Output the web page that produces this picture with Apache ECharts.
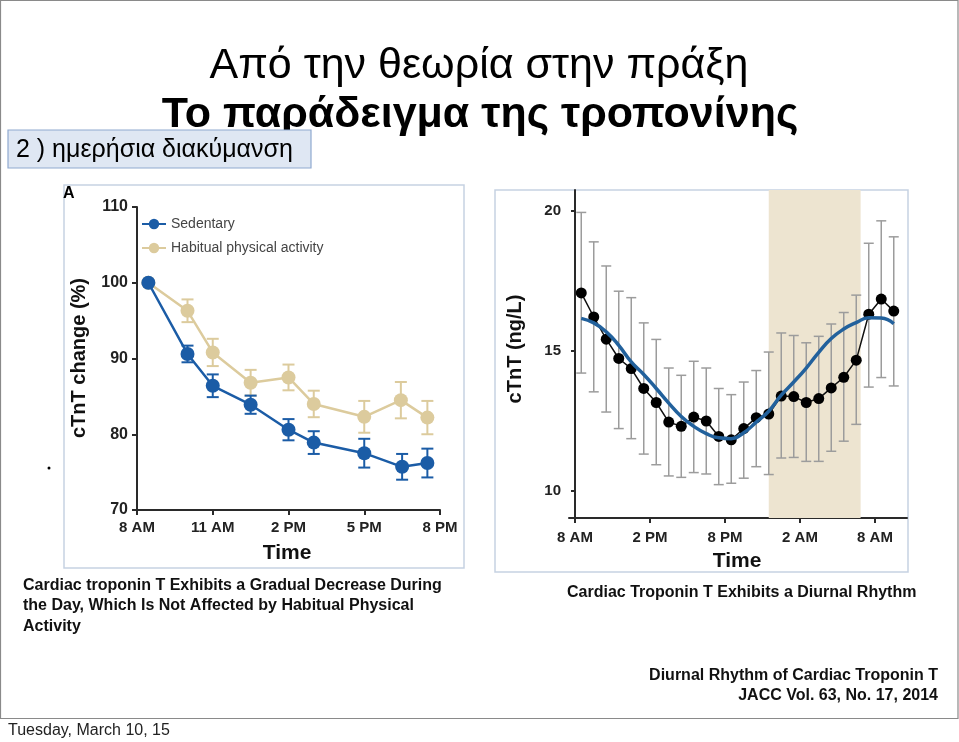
<!DOCTYPE html>
<html>
<head>
<meta charset="utf-8">
<script src="https://cdn.jsdelivr.net/npm/echarts@6/dist/echarts.min.js"></script>
<style>
html,body{margin:0;padding:0;background:#fff;}
#main{width:959px;height:742px;}
</style>
</head>
<body>
<div id="main"></div>
<script>
// ---------- Left chart data (hours after 8 AM) ----------
const leftTickLabels = ['8 AM', '11 AM', '2 PM', '5 PM', '8 PM'];
const sedTime = [0.45, 2, 3, 4.5, 6, 7, 9, 10.5, 11.5];
const sedVal  = [100, 90.6, 86.4, 83.9, 80.6, 78.9, 77.5, 75.7, 76.2];
const sedErr  = [0, 1.1, 1.5, 1.2, 1.4, 1.5, 1.9, 1.7, 1.9];
const habTime = [0.45, 2, 3, 4.5, 6, 7, 9, 10.45, 11.5];
const habVal  = [100, 96.3, 90.8, 86.8, 87.5, 84.0, 82.3, 84.5, 82.2];
const habErr  = [0, 1.5, 1.8, 1.7, 1.7, 1.75, 2.1, 2.4, 2.2];

// ---------- Right chart data (hours after 8 AM) ----------
const rightTickLabels = ['8 AM', '2 PM', '8 PM', '2 AM', '8 AM'];
const rTime = [0.5, 1.5, 2.5, 3.5, 4.5, 5.5, 6.5, 7.5, 8.5, 9.5, 10.5, 11.5, 12.5,
               13.5, 14.5, 15.5, 16.5, 17.5, 18.5, 19.5, 20.5, 21.5, 22.5, 23.5, 24.5, 25.5];
const rVal  = [17.07, 16.21, 15.42, 14.73, 14.37, 13.66, 13.16, 12.46, 12.31, 12.64, 12.50, 11.95, 11.83,
               12.23, 12.62, 12.75, 13.39, 13.37, 13.16, 13.30, 13.68, 14.06, 14.67, 16.31, 16.85, 16.42];
const rLow  = [14.21, 13.54, 12.82, 12.23, 11.87, 11.32, 10.94, 10.54, 10.49, 10.66, 10.61, 10.23, 10.28,
               10.46, 10.87, 10.59, 11.18, 11.20, 11.06, 11.06, 11.42, 11.78, 12.38, 13.71, 14.05, 13.75];
const rHigh = [19.94, 18.89, 18.03, 17.13, 16.90, 16.00, 15.41, 14.39, 14.13, 14.63, 14.39, 13.66, 13.44,
               13.89, 14.30, 14.96, 15.64, 15.55, 15.29, 15.52, 15.96, 16.37, 16.99, 18.84, 19.64, 19.07];
const fitTime = rTime;
const fitVal = [16.16, 16.00, 15.68, 15.20, 14.61, 14.16, 13.66, 13.14, 12.66, 12.31, 12.05, 11.90, 11.87,
                12.08, 12.46, 12.85, 13.42, 13.89, 14.39, 14.95, 15.44, 15.78, 16.01, 16.18, 16.17, 15.97];
const nightStart = 15.5, nightEnd = 22.85;

// ---------- colors ----------
const SED = '#1b5ca6', HAB = '#dccb9d', ERRG = '#9c9c9c', FIT = '#22619c', BAND = '#ede4d0';
const FONT = "'Liberation Sans', Arial, sans-serif";

function errBar(color, lw, hw) {
  return function (params, api) {
    const x = api.value(0), lo = api.value(1), hi = api.value(2);
    if (hi === lo) return null;
    const a = api.coord([x, hi]), b = api.coord([x, lo]);
    const st = { stroke: color, lineWidth: lw };
    return { type: 'group', children: [
      { type: 'line', shape: { x1: a[0], y1: a[1], x2: b[0], y2: b[1] }, style: st },
      { type: 'line', shape: { x1: a[0] - hw, y1: a[1], x2: a[0] + hw, y2: a[1] }, style: st },
      { type: 'line', shape: { x1: b[0] - hw, y1: b[1], x2: b[0] + hw, y2: b[1] }, style: st }
    ]};
  };
}

const sedPts = sedTime.map((t, i) => [t, sedVal[i]]);
const habPts = habTime.map((t, i) => [t, habVal[i]]);
const sedErrData = sedTime.map((t, i) => [t, sedVal[i] - sedErr[i], sedVal[i] + sedErr[i]]);
const habErrData = habTime.map((t, i) => [t, habVal[i] - habErr[i], habVal[i] + habErr[i]]);
const rPts = rTime.map((t, i) => [t, rVal[i]]);
const rErrData = rTime.map((t, i) => [t, rLow[i], rHigh[i]]);
const fitPts = fitTime.map((t, i) => [t, fitVal[i]]);

const axisLineStyle = { color: '#2a2a2a', width: 2 };
const tickLabel = { color: '#222', fontWeight: 'bold', fontFamily: FONT };

const chart = echarts.init(document.getElementById('main'), null, { renderer: 'canvas' });
chart.setOption({
  animation: false,
  backgroundColor: '#fff',
  grid: [
    { left: 137, top: 207, width: 303, height: 303, containLabel: false },
    { left: 569, top: 190, width: 338, height: 328, containLabel: false }
  ],
  xAxis: [
    { type: 'value', gridIndex: 0, min: 0, max: 12, interval: 3,
      axisLine: { lineStyle: axisLineStyle }, axisTick: { length: 5, lineStyle: axisLineStyle },
      splitLine: { show: false },
      axisLabel: Object.assign({ fontSize: 15, margin: 10,
        formatter: v => leftTickLabels[Math.round(v / 3)] }, tickLabel) },
    { type: 'value', gridIndex: 1, min: -0.48, max: 26.56,
      axisLine: { lineStyle: axisLineStyle },
      axisTick: { length: 5, lineStyle: axisLineStyle, customValues: [0, 6, 12, 18, 24] },
      splitLine: { show: false },
      axisLabel: Object.assign({ fontSize: 15, margin: 12, customValues: [0, 6, 12, 18, 24],
        formatter: v => rightTickLabels[Math.round(v / 6)] }, tickLabel) }
  ],
  yAxis: [
    { type: 'value', gridIndex: 0, min: 70, max: 110, interval: 10,
      axisLine: { show: true, lineStyle: axisLineStyle }, axisTick: { show: true, length: 5, lineStyle: axisLineStyle },
      splitLine: { show: false },
      axisLabel: Object.assign({ fontSize: 16, margin: 9 }, tickLabel) },
    { type: 'value', gridIndex: 1, min: 9.04, max: 20.74,
      axisLine: { show: true, lineStyle: axisLineStyle },
      axisTick: { show: true, length: 4, lineStyle: axisLineStyle, customValues: [10, 15, 20] },
      splitLine: { show: false },
      axisLabel: Object.assign({ fontSize: 15, margin: 8, customValues: [10, 15, 20] }, tickLabel) }
  ],
  legend: {
    left: 136, top: 212, orient: 'vertical', itemWidth: 24, itemHeight: 13, itemGap: 10,
    textStyle: { fontSize: 14, color: '#444', fontFamily: FONT },
    data: ['Sedentary', 'Habitual physical activity']
  },
  series: [
    { type: 'custom', name: 'hab-err', xAxisIndex: 0, yAxisIndex: 0, renderItem: errBar(HAB, 2, 6),
      data: habErrData, z: 2, silent: true },
    { type: 'line', name: 'Habitual physical activity', xAxisIndex: 0, yAxisIndex: 0, data: habPts,
      symbol: 'circle', symbolSize: 14, color: HAB, lineStyle: { width: 2.5, color: HAB }, z: 3 },
    { type: 'custom', name: 'sed-err', xAxisIndex: 0, yAxisIndex: 0, renderItem: errBar(SED, 2, 6),
      data: sedErrData, z: 4, silent: true },
    { type: 'line', name: 'Sedentary', xAxisIndex: 0, yAxisIndex: 0, data: sedPts,
      symbol: 'circle', symbolSize: 14, color: SED, lineStyle: { width: 2.5, color: SED }, z: 5 },
    // right chart
    { type: 'line', name: 'night', xAxisIndex: 1, yAxisIndex: 1, data: [], z: 1,
      markArea: { silent: true, itemStyle: { color: BAND }, data: [[{ xAxis: nightStart }, { xAxis: nightEnd }]] } },
    { type: 'custom', name: 'r-err', xAxisIndex: 1, yAxisIndex: 1, renderItem: errBar(ERRG, 1.5, 5),
      data: rErrData, z: 2, silent: true },
    { type: 'line', name: 'cTnT', xAxisIndex: 1, yAxisIndex: 1, data: rPts,
      symbol: 'circle', symbolSize: 11, color: '#000', lineStyle: { width: 1.5, color: '#111' }, z: 3 },
    { type: 'line', name: 'fit', xAxisIndex: 1, yAxisIndex: 1, data: fitPts, smooth: true,
      showSymbol: false, symbol: 'none', lineStyle: { width: 3.5, color: FIT }, z: 4 }
  ],
  graphic: [
    { type: 'rect', z: -10, shape: { x: 0.5, y: 0.5, width: 957.5, height: 718 },
      style: { fill: '#fff', stroke: '#8a8a8a', lineWidth: 1.2 } },
    { type: 'rect', z: -9, shape: { x: 64, y: 185, width: 400, height: 383 },
      style: { fill: '#fff', stroke: '#c6d2e2', lineWidth: 1.5 } },
    { type: 'rect', z: -9, shape: { x: 495, y: 190, width: 413, height: 382 },
      style: { fill: '#fff', stroke: '#c6d2e2', lineWidth: 1.5 } },
    { type: 'text', z: 10, x: 479, y: 66,
      style: { text: 'Από την θεωρία στην πράξη', fontSize: 43, fontFamily: FONT, fill: '#000',
               align: 'center', verticalAlign: 'middle' } },
    { type: 'text', z: 10, x: 480, y: 115,
      style: { text: 'Το παράδειγμα της τροπονίνης', fontSize: 43, fontWeight: 'bold', fontFamily: FONT, fill: '#000',
               align: 'center', verticalAlign: 'middle' } },
    { type: 'rect', z: 20, shape: { x: 8, y: 130, width: 303, height: 38 },
      style: { fill: '#dfe7f3', stroke: '#8fa9d0', lineWidth: 1.2 } },
    { type: 'text', z: 21, x: 16, y: 150,
      style: { text: '2 ) ημερήσια διακύμανση', fontSize: 25, fontFamily: FONT, fill: '#000',
               align: 'left', verticalAlign: 'middle' } },
    { type: 'text', z: 10, x: 63, y: 186,
      style: { text: 'A', fontSize: 16, fontWeight: 'bold', fontFamily: FONT, fill: '#000',
               align: 'left', verticalAlign: 'top' } },
    { type: 'circle', z: 10, shape: { cx: 49, cy: 468, r: 1.5 }, style: { fill: '#000' } },
    { type: 'text', z: 10, x: 79, y: 358, rotation: Math.PI / 2,
      style: { text: 'cTnT change (%)', fontSize: 20, fontWeight: 'bold', fontFamily: FONT, fill: '#111',
               align: 'center', verticalAlign: 'middle' } },
    { type: 'text', z: 10, x: 287, y: 553,
      style: { text: 'Time', fontSize: 21, fontWeight: 'bold', fontFamily: FONT, fill: '#111',
               align: 'center', verticalAlign: 'middle' } },
    { type: 'text', z: 10, x: 515, y: 349, rotation: Math.PI / 2,
      style: { text: 'cTnT (ng/L)', fontSize: 20, fontWeight: 'bold', fontFamily: FONT, fill: '#111',
               align: 'center', verticalAlign: 'middle' } },
    { type: 'text', z: 10, x: 737, y: 561,
      style: { text: 'Time', fontSize: 21, fontWeight: 'bold', fontFamily: FONT, fill: '#111',
               align: 'center', verticalAlign: 'middle' } },
    { type: 'text', z: 10, x: 23, y: 575,
      style: { text: 'Cardiac troponin T Exhibits a Gradual Decrease During\nthe Day, Which Is Not Affected by Habitual Physical\nActivity',
               fontSize: 16, lineHeight: 20.5, fontWeight: 'bold', fontFamily: FONT, fill: '#111',
               align: 'left', verticalAlign: 'top' } },
    { type: 'text', z: 10, x: 567, y: 593,
      style: { text: 'Cardiac Troponin T Exhibits a Diurnal Rhythm', fontSize: 16, fontWeight: 'bold',
               fontFamily: FONT, fill: '#111', align: 'left', verticalAlign: 'middle' } },
    { type: 'text', z: 10, x: 938, y: 676,
      style: { text: 'Diurnal Rhythm of Cardiac Troponin T', fontSize: 16, fontWeight: 'bold',
               fontFamily: FONT, fill: '#111', align: 'right', verticalAlign: 'middle' } },
    { type: 'text', z: 10, x: 938, y: 696,
      style: { text: 'JACC Vol. 63, No. 17, 2014', fontSize: 16, fontWeight: 'bold',
               fontFamily: FONT, fill: '#111', align: 'right', verticalAlign: 'middle' } },
    { type: 'text', z: 10, x: 8, y: 731,
      style: { text: 'Tuesday, March 10, 15', fontSize: 16, fontFamily: FONT, fill: '#222',
               align: 'left', verticalAlign: 'middle' } }
  ]
});
</script>
</body>
</html>
